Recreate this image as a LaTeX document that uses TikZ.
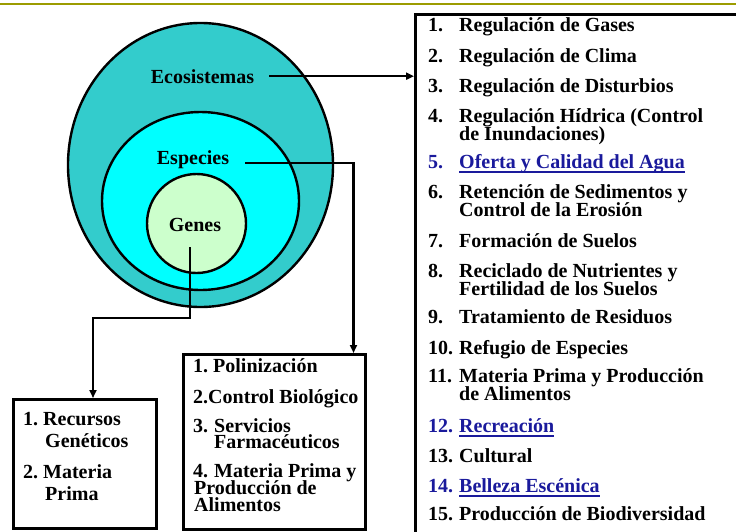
\documentclass[tikz,border=0pt]{standalone}
\usepackage{fontspec}
\setmainfont{Liberation Serif}
\usetikzlibrary{arrows.meta, positioning, shapes.geometric}
\definecolor{ecoturq}{HTML}{33CCCC}
\definecolor{espcian}{HTML}{00FFFF}
\definecolor{genverde}{HTML}{CCFFCC}
\definecolor{azulenlace}{HTML}{1A1A9C}
\definecolor{oliva}{HTML}{9C9C00}
\newcommand{\subrayar}[1]{\setbox0\hbox{#1}\rlap{\rule[-5pt]{\wd0}{1.8pt}}\box0}
\tikzset{
  nivel/.style={ellipse, draw=black, line width=2.4pt, inner sep=0pt},
  caja/.style={rectangle, draw=black, line width=3pt, anchor=north west, inner sep=0pt},
  rotulo/.style={font=\bfseries\fontsize{20}{17}\selectfont, inner sep=0pt, anchor=base},
  linea/.style={rotulo, anchor=base west, text height=12pt, text depth=2pt},
  lineazul/.style={linea, text=azulenlace},
  flecha/.style={-{Triangle[length=8pt, width=7pt]}, line width=2.4pt},
}
\begin{document}
\begin{tikzpicture}[x=1pt, y=-1pt]
  \useasboundingbox (0,0) rectangle (736,531);
  \clip (0,0) rectangle (736,531);
  \draw[oliva, line width=1.5pt] (0,4) -- (736,4);

  % niveles de biodiversidad
  \node[nivel, fill=ecoturq, minimum width=265, minimum height=284] (eco) at (200.5,165) {};
  \node[nivel, fill=espcian, minimum width=197, minimum height=178] (esp) at (200.5,201) {};
  \node[nivel, fill=genverde, minimum width=99, minimum height=99] (gen) at (196.5,223.5) {};
  \node[rotulo] (ecoTxt) at (202.5,83) {Ecosistemas};
  \node[rotulo] (espTxt) at (193,164) {Especies};
  \node[rotulo] (genTxt) at (195,231) {Genes};

  % cajas de servicios
  \node[caja, minimum width=340, minimum height=540] (ecoCaja) at (414,13) {};
  \node[caja, minimum width=182, minimum height=175] (espCaja) at (182,353) {};
  \node[caja, minimum width=143, minimum height=129] (genCaja) at (12,398) {};

  \draw[flecha] ([xshift=15pt]ecoTxt.east) -- (ecoTxt.east -| ecoCaja.west);
  \draw[flecha] ([xshift=16pt, yshift=1pt]espTxt.base east) -| ([xshift=79pt]espCaja.north);
  \draw[flecha] ([xshift=-5pt, yshift=-16pt]genTxt.base) -- ++(0,71) -| ([xshift=8pt]genCaja.north);

  % lista de ecosistemas
  \foreach \y/\n/\t in {31/1./Regulación de Gases, 62/2./Regulación de Clima,
      92/3./Regulación de Disturbios, 122/4./Regulación Hídrica (Control,
      140//de Inundaciones), 198/6./Retención de Sedimentos y,
      216//Control de la Erosión, 247/7./Formación de Suelos,
      277/8./Reciclado de Nutrientes y, 295//Fertilidad de los Suelos,
      323/9./Tratamiento de Residuos, 354/10./Refugio de Especies,
      382/11./Materia Prima y Producción, 400//de Alimentos,
      462/13./Cultural, 520/15./Producción de Biodiversidad}{
    \node[linea] (num\y) at (428,\y) {\n};
    \node[linea] (srv\y) at (459,\y) {\t};
  }
  \foreach \y/\n/\t in {168/5./Oferta y Calidad del Agua, 432/12./Recreación,
      492/14./Belleza Escénica}{
    \node[lineazul] (num\y) at (428,\y) {\n};
    \node[lineazul] (srv\y) at (459,\y) {\subrayar{\t}};
  }

  % lista de especies
  \node[linea] (espA) at (193,372) {1.};
  \node[linea] (espAt) at (213,372) {Polinización};
  \node[linea] (espB) at (193,403) {2.Control Biológico};
  \node[linea] (espC) at (193,432) {3.};
  \node[linea] (espCt) at (214,432) {Servicios};
  \node[linea] (espCu) at (214,448.5) {Farmacéuticos};
  \node[linea] (espD) at (193,477) {4.};
  \node[linea] (espDt) at (214,477) {Materia Prima y};
  \node[linea] (espDu) at (194,494) {Producción de};
  \node[linea] (espDv) at (194,511) {Alimentos};

  % lista de genes
  \node[linea] (genA) at (23,425) {1.};
  \node[linea] (genAt) at (43,425) {Recursos};
  \node[linea] (genAu) at (45,447) {Genéticos};
  \node[linea] (genB) at (23,478) {2.};
  \node[linea] (genBt) at (43,478) {Materia};
  \node[linea] (genBu) at (45,500) {Prima};
\end{tikzpicture}
\end{document}
